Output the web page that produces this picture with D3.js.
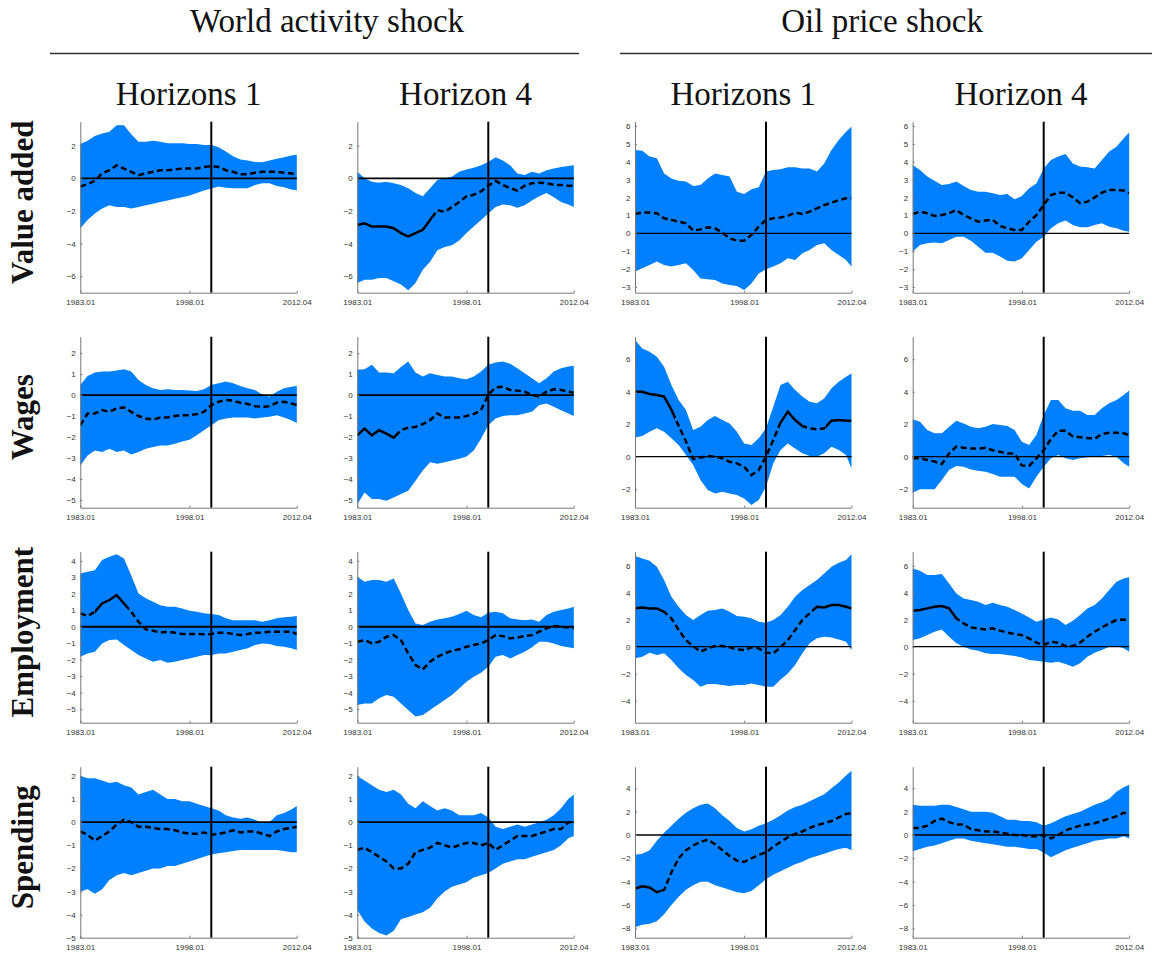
<!DOCTYPE html>
<html>
<head>
<meta charset="utf-8">
<script src="https://cdn.jsdelivr.net/npm/d3@7"></script>
<style>
  body { margin: 0; background: #fff; }
  svg { display: block; }
</style>
</head>
<body>
<svg id="chart" width="1153" height="958"></svg>
<script>
// Sample dates (Q1 of each year, plus the last quarter 2012Q4)
const dates = [1983, 1984, 1985, 1986, 1987, 1988, 1989, 1990, 1991, 1992,
               1993, 1994, 1995, 1996, 1997, 1998, 1999, 2000, 2001, 2002,
               2003, 2004, 2005, 2006, 2007, 2008, 2009, 2010, 2011, 2012, 2012.75];
const xTickValues = [1983, 1998, 2012.75];
const xTickLabels = ["1983.01", "1998.01", "2012.04"];
const breakDate = 2001;

const shockTitles = ["World activity shock", "Oil price shock"];
const horizonTitles = ["Horizons 1", "Horizon 4"];
const variableNames = ["Value added", "Wages", "Employment", "Spending"];

// y-axis limits and ticks per variable (row) and shock
const yLimits = [
  [[-7.0, 3.47], [-3.32, 6.24]],
  [[-5.37, 2.78], [-3.14, 7.39]],
  [[-5.82, 4.55], [-5.63, 7.04]],
  [[-5.0, 2.4], [-8.8, 5.85]]
];
const yTicks = [
  [[-6, -4, -2, 0, 2], [-3, -2, -1, 0, 1, 2, 3, 4, 5, 6]],
  [[-5, -4, -3, -2, -1, 0, 1, 2], [-2, 0, 2, 4, 6]],
  [[-5, -4, -3, -2, -1, 0, 1, 2, 3, 4], [-4, -2, 0, 2, 4, 6]],
  [[-5, -4, -3, -2, -1, 0, 1, 2], [-8, -6, -4, -2, 0, 2, 4]]
];

// ---- Value added ----
const va_w1_hi  = [2.1,2.3,2.6,2.75,2.85,3.25,3.25,2.7,2.25,2.25,2.3,2.25,2.15,2.15,2.15,2.1,2.1,2.05,2.05,1.9,1.65,1.35,1.15,1.1,1.0,0.98,1.1,1.2,1.3,1.4,1.45];
const va_w1_lo  = [-3.06,-2.55,-2.15,-1.85,-1.65,-1.75,-1.75,-1.85,-1.75,-1.65,-1.55,-1.45,-1.35,-1.25,-1.15,-1.05,-0.9,-0.75,-0.62,-0.5,-0.57,-0.6,-0.6,-0.6,-0.4,-0.3,-0.3,-0.47,-0.55,-0.68,-0.72];
const va_w1_med = [-0.5,-0.35,-0.15,0.3,0.5,0.8,0.6,0.4,0.2,0.3,0.4,0.5,0.5,0.55,0.6,0.6,0.6,0.7,0.75,0.7,0.5,0.4,0.25,0.25,0.35,0.4,0.4,0.4,0.35,0.3,0.25];

const va_w4_hi  = [0.4,0.0,-0.2,-0.27,-0.2,-0.3,-0.4,-0.6,-0.9,-1.1,-0.6,-0.1,0.0,0.1,0.4,0.55,0.65,0.8,1.0,1.3,1.1,0.8,0.3,0.2,0.4,0.3,0.5,0.6,0.7,0.75,0.8];
const va_w4_lo  = [-6.4,-6.2,-6.2,-6.1,-6.1,-6.3,-6.5,-6.85,-6.4,-5.6,-5.1,-4.4,-4.2,-4.1,-3.8,-3.35,-2.95,-2.55,-2.15,-1.75,-1.6,-1.65,-1.8,-1.65,-1.35,-1.1,-0.9,-1.15,-1.45,-1.6,-1.75];
const va_w4_med = [-2.85,-2.75,-2.95,-2.95,-2.95,-3.05,-3.35,-3.55,-3.35,-3.15,-2.55,-1.95,-2.05,-1.75,-1.45,-1.1,-1.0,-0.8,-0.45,-0.15,-0.4,-0.6,-0.75,-0.45,-0.3,-0.27,-0.3,-0.4,-0.4,-0.45,-0.45];

const va_o1_hi  = [4.66,4.62,4.29,4.2,3.35,3.07,2.94,2.89,2.65,2.7,3.07,3.35,3.26,3.17,2.33,2.2,2.46,2.57,3.45,3.54,3.58,3.69,3.69,3.63,3.63,3.45,3.91,4.66,5.22,5.68,5.96];
const va_o1_lo  = [-2.14,-1.96,-1.77,-1.58,-1.77,-1.86,-1.77,-1.68,-2.05,-2.52,-2.57,-2.61,-2.8,-2.89,-2.94,-3.17,-2.8,-2.24,-2.01,-1.86,-1.68,-1.4,-1.49,-1.12,-0.93,-0.65,-0.56,-0.93,-1.21,-1.49,-1.86];
const va_o1_med = [1.08,1.16,1.16,1.12,0.84,0.75,0.65,0.56,0.15,0.22,0.34,0.28,0.04,-0.28,-0.41,-0.41,-0.09,0.37,0.75,0.84,0.89,0.97,1.16,1.08,1.21,1.4,1.58,1.71,1.86,1.96,1.96];

const va_o4_hi  = [3.82,3.54,3.17,2.94,2.7,2.76,2.89,2.65,2.42,2.33,2.33,2.24,2.14,2.2,1.9,2.09,2.52,2.79,3.63,4.1,4.29,4.43,3.91,3.73,3.69,3.63,4.1,4.57,4.84,5.31,5.63];
const va_o4_lo  = [-1.02,-0.65,-0.56,-0.52,-0.56,-0.37,-0.19,-0.19,-0.41,-0.75,-1.08,-1.08,-1.3,-1.53,-1.58,-1.4,-0.93,-0.47,-0.19,0.28,0.56,0.71,0.47,0.34,0.34,0.47,0.56,0.37,0.28,0.15,0.09];
const va_o4_med = [1.08,1.21,1.12,0.97,1.02,1.12,1.3,1.02,0.84,0.65,0.71,0.75,0.41,0.28,0.19,0.19,0.65,1.02,1.58,2.14,2.27,2.27,2.01,1.68,1.77,2.01,2.27,2.42,2.42,2.39,2.24];

// ---- Wages ----
const wg_w1_hi  = [0.48,0.91,1.07,1.12,1.12,1.17,1.23,1.12,0.72,0.48,0.32,0.24,0.27,0.24,0.24,0.21,0.19,0.27,0.48,0.56,0.64,0.56,0.43,0.32,0.24,0.03,-0.08,0.16,0.32,0.4,0.43];
const wg_w1_lo  = [-3.36,-2.88,-2.64,-2.72,-2.56,-2.72,-2.64,-2.83,-2.72,-2.56,-2.48,-2.4,-2.4,-2.32,-2.21,-2.13,-1.92,-1.68,-1.44,-1.2,-1.12,-1.07,-1.07,-1.07,-1.12,-1.07,-1.04,-0.96,-1.07,-1.2,-1.33];
const wg_w1_med = [-1.44,-0.88,-0.88,-0.72,-0.8,-0.64,-0.59,-0.8,-1.0,-1.12,-1.17,-1.07,-1.07,-1.0,-0.96,-0.96,-0.91,-0.8,-0.48,-0.32,-0.24,-0.27,-0.37,-0.43,-0.53,-0.56,-0.53,-0.37,-0.32,-0.4,-0.48];

const wg_w4_hi  = [1.2,1.23,1.44,1.07,1.07,1.04,1.33,1.6,1.07,0.88,1.04,0.96,0.88,0.88,0.8,0.75,0.88,1.12,1.44,1.55,1.6,1.49,1.28,1.04,0.8,0.56,0.8,1.12,1.28,1.36,1.39];
const wg_w4_lo  = [-5.2,-4.64,-4.96,-4.96,-5.04,-4.88,-4.72,-4.56,-4.08,-3.6,-3.2,-3.28,-3.2,-3.12,-3.04,-2.93,-2.64,-2.08,-1.44,-1.12,-1.0,-0.96,-0.96,-0.88,-0.8,-0.48,-0.4,-0.56,-0.72,-0.88,-1.0];
const wg_w4_med = [-1.92,-1.6,-1.92,-1.68,-1.84,-2.03,-1.68,-1.55,-1.52,-1.39,-1.2,-0.88,-1.07,-1.07,-1.07,-1.0,-0.91,-0.72,0.0,0.37,0.4,0.24,0.21,0.16,0.0,-0.08,0.16,0.27,0.24,0.16,0.11];

const wg_o1_hi  = [7.19,6.67,6.47,6.16,5.54,4.41,3.49,2.87,1.64,1.85,2.26,2.5,2.26,2.05,1.54,0.82,0.72,1.13,1.75,3.08,4.41,4.62,4.11,3.7,3.39,3.29,3.59,4.21,4.62,4.93,5.13];
const wg_o1_lo  = [1.19,1.27,1.54,1.75,1.54,1.13,0.72,0.1,-0.51,-1.44,-2.05,-2.26,-2.16,-2.26,-2.36,-2.57,-2.98,-2.67,-1.85,-0.41,0.41,0.82,0.51,0.21,0.04,0.0,0.21,0.62,0.41,0.1,-0.72];
const wg_o1_med = [4.0,4.0,3.86,3.8,3.7,2.9,1.9,0.95,-0.15,-0.05,0.04,0.0,-0.1,-0.31,-0.41,-0.62,-1.13,-0.82,0.0,1.03,2.1,2.77,2.26,1.89,1.75,1.68,1.75,2.22,2.26,2.22,2.22];

const wg_o4_hi  = [2.3,2.16,1.64,1.44,1.44,1.85,2.22,2.05,1.85,1.75,1.85,2.01,1.95,1.89,1.64,0.92,0.72,1.33,2.57,3.49,3.49,2.98,2.83,2.83,2.57,2.57,2.98,3.29,3.49,3.8,4.07];
const wg_o4_lo  = [-2.22,-2.01,-2.01,-2.01,-1.44,-0.82,-0.57,-0.62,-0.78,-0.86,-0.92,-1.07,-1.23,-1.23,-1.23,-1.68,-1.95,-1.23,-0.62,-0.1,0.1,-0.1,-0.21,-0.1,-0.04,0.0,0.04,0.1,0.0,-0.41,-0.62];
const wg_o4_med = [-0.1,-0.1,-0.2,-0.3,-0.45,0.2,0.62,0.55,0.5,0.5,0.55,0.4,0.3,0.2,0.2,-0.55,-0.57,-0.1,0.4,1.1,1.6,1.6,1.25,1.2,1.15,1.1,1.4,1.48,1.48,1.44,1.33];

// ---- Employment ----
const em_w1_hi  = [3.23,3.33,3.43,4.04,4.24,4.4,4.14,3.1,2.02,1.72,1.52,1.31,1.21,1.21,1.11,0.97,0.91,0.81,0.77,0.71,0.51,0.4,0.4,0.4,0.4,0.3,0.4,0.51,0.57,0.61,0.65];
const em_w1_lo  = [-1.82,-1.62,-1.52,-1.01,-0.81,-0.77,-1.11,-1.41,-1.72,-1.92,-2.12,-2.02,-2.18,-2.12,-2.02,-1.92,-1.82,-1.72,-1.72,-1.62,-1.62,-1.52,-1.41,-1.31,-1.11,-1.01,-1.05,-1.17,-1.21,-1.31,-1.41];
const em_w1_med = [0.81,0.65,0.91,1.41,1.62,1.92,1.41,0.91,0.3,-0.16,-0.24,-0.36,-0.3,-0.36,-0.44,-0.44,-0.44,-0.46,-0.44,-0.36,-0.36,-0.44,-0.5,-0.44,-0.36,-0.36,-0.3,-0.3,-0.3,-0.3,-0.44];

const em_w4_hi  = [3.03,2.73,2.83,2.83,2.73,2.93,2.02,1.01,0.2,0.1,0.3,0.44,0.51,0.61,0.77,0.97,0.71,0.57,0.85,0.91,0.81,0.51,0.44,0.4,0.44,0.3,0.71,0.91,1.01,1.11,1.21];
const em_w4_lo  = [-4.75,-4.65,-4.65,-4.34,-4.14,-4.24,-4.65,-5.05,-5.45,-5.35,-5.05,-4.75,-4.44,-4.14,-3.74,-3.33,-3.03,-2.79,-2.42,-1.82,-1.72,-1.92,-1.72,-1.52,-1.25,-0.91,-0.91,-1.01,-1.17,-1.25,-1.31];
const em_w4_med = [-0.91,-0.81,-1.01,-0.91,-0.61,-0.51,-0.81,-1.62,-2.32,-2.59,-2.12,-1.82,-1.62,-1.45,-1.37,-1.21,-1.11,-1.01,-0.81,-0.51,-0.57,-0.71,-0.65,-0.57,-0.51,-0.3,-0.1,0.04,0.0,-0.04,-0.1];

const em_o1_hi  = [6.72,6.54,6.37,5.93,4.94,3.7,2.96,2.35,1.98,2.35,2.67,2.72,2.84,2.59,2.27,2.22,2.1,1.85,1.78,1.98,2.35,2.96,3.7,4.2,4.57,4.94,5.43,5.93,6.22,6.42,6.86];
const em_o1_lo  = [-0.86,-0.74,-0.44,-0.62,-0.49,-0.99,-1.6,-2.1,-2.47,-2.96,-2.77,-2.77,-2.84,-2.91,-2.84,-2.84,-2.72,-2.84,-2.96,-2.96,-2.42,-1.98,-1.36,-0.49,0.25,0.62,0.74,0.69,0.54,0.37,-0.25];
const em_o1_med = [2.84,2.91,2.84,2.84,2.59,2.1,1.23,0.49,0.05,-0.37,-0.12,0.05,0.05,-0.05,-0.2,-0.25,-0.05,-0.12,-0.44,-0.49,-0.05,0.49,1.23,1.98,2.47,2.96,2.91,3.09,3.09,2.96,2.84];

const em_o4_hi  = [5.8,5.63,5.31,5.31,5.38,4.69,3.95,3.58,3.46,3.33,3.09,3.26,3.09,2.96,2.72,2.47,2.17,1.85,2.02,2.17,2.02,1.6,1.93,2.35,2.84,3.09,3.58,4.2,4.81,5.06,5.14];
const em_o4_lo  = [0.49,0.62,0.86,1.11,1.28,0.74,0.25,0.0,-0.2,-0.3,-0.49,-0.54,-0.54,-0.62,-0.69,-0.79,-0.99,-1.04,-1.11,-1.19,-1.11,-1.28,-1.48,-1.23,-0.74,-0.44,-0.25,0.0,0.05,-0.12,-0.37];
const em_o4_med = [2.67,2.72,2.84,2.96,3.01,2.84,2.1,1.73,1.43,1.36,1.28,1.36,1.19,1.04,0.94,0.86,0.62,0.3,0.12,0.37,0.3,0.05,0.05,0.3,0.74,1.11,1.43,1.73,1.98,2.02,1.93];

// ---- Spending ----
const sp_w1_hi  = [2.0,1.9,1.9,1.8,1.7,1.75,1.6,1.5,1.2,1.3,1.4,1.2,1.0,1.0,0.9,0.9,0.8,0.7,0.6,0.5,0.3,0.2,0.15,0.2,0.1,-0.05,0.0,0.3,0.4,0.55,0.7];
const sp_w1_lo  = [-3.0,-2.9,-3.1,-2.9,-2.5,-2.3,-2.2,-2.3,-2.2,-2.1,-2.0,-2.0,-1.9,-1.9,-1.8,-1.7,-1.6,-1.5,-1.4,-1.35,-1.3,-1.25,-1.2,-1.2,-1.2,-1.2,-1.2,-1.2,-1.25,-1.3,-1.3];
const sp_w1_med = [-0.4,-0.55,-0.8,-0.6,-0.4,-0.1,0.1,0.0,-0.2,-0.2,-0.25,-0.3,-0.3,-0.35,-0.45,-0.5,-0.5,-0.45,-0.55,-0.5,-0.45,-0.35,-0.45,-0.4,-0.4,-0.5,-0.6,-0.4,-0.3,-0.25,-0.2];

const sp_w4_hi  = [2.0,1.8,1.6,1.4,1.3,1.4,1.2,0.8,0.6,0.9,0.7,0.5,0.6,0.5,0.3,0.3,0.3,0.4,0.2,-0.2,-0.3,-0.2,-0.1,-0.2,-0.1,0.0,0.1,0.3,0.6,1.0,1.2];
const sp_w4_lo  = [-3.8,-4.3,-4.6,-4.8,-4.9,-4.7,-4.2,-4.1,-4.0,-3.9,-3.7,-3.3,-3.0,-2.8,-2.7,-2.6,-2.4,-2.3,-2.2,-2.0,-1.8,-1.7,-1.6,-1.6,-1.5,-1.4,-1.3,-1.2,-1.0,-0.7,-0.6];
const sp_w4_med = [-1.2,-1.1,-1.3,-1.5,-1.7,-2.0,-2.0,-1.8,-1.3,-1.2,-1.1,-0.9,-1.0,-1.1,-1.0,-0.9,-0.9,-1.0,-0.9,-1.2,-1.0,-0.8,-0.6,-0.6,-0.6,-0.5,-0.4,-0.3,-0.3,0.0,0.0];

const sp_o1_hi  = [-1.7,-1.6,-1.3,-0.5,0.2,0.8,1.4,1.9,2.3,2.6,2.7,2.3,1.7,1.2,0.6,0.3,0.5,0.8,1.0,1.3,1.7,2.1,2.4,2.6,2.9,3.2,3.5,4.0,4.5,5.1,5.5];
const sp_o1_lo  = [-7.9,-7.7,-7.6,-7.4,-6.8,-6.0,-5.3,-4.7,-4.3,-4.0,-4.0,-4.3,-4.5,-4.7,-4.9,-5.0,-4.8,-4.3,-3.8,-3.4,-3.1,-2.8,-2.5,-2.3,-2.0,-1.8,-1.6,-1.4,-1.2,-1.1,-1.3];
const sp_o1_med = [-4.6,-4.4,-4.5,-4.9,-4.7,-3.2,-2.0,-1.3,-0.9,-0.6,-0.4,-0.8,-1.3,-1.8,-2.2,-2.3,-2.0,-1.7,-1.5,-1.0,-0.6,-0.2,0.1,0.3,0.6,0.85,1.0,1.2,1.5,1.8,1.85];

const sp_o4_hi  = [2.6,2.5,2.5,2.5,2.6,2.6,2.4,2.2,2.0,2.0,2.0,1.9,1.6,1.3,1.3,1.2,1.2,1.1,0.8,1.0,1.3,1.6,1.8,2.0,2.3,2.6,2.8,3.1,3.7,4.1,4.3];
const sp_o4_lo  = [-1.4,-1.2,-1.0,-0.9,-0.7,-0.5,-0.3,-0.3,-0.5,-0.6,-0.7,-0.8,-0.9,-1.0,-1.0,-1.1,-1.2,-1.2,-1.5,-1.9,-1.6,-1.3,-1.1,-0.9,-0.7,-0.5,-0.4,-0.3,-0.3,-0.1,-0.3];
const sp_o4_med = [0.6,0.6,0.8,1.2,1.4,1.1,0.9,0.9,0.5,0.4,0.3,0.3,0.2,0.1,0.0,0.0,-0.1,-0.1,0.0,-0.3,0.0,0.4,0.6,0.8,0.9,1.0,1.2,1.4,1.6,1.9,1.8];

// Date ranges where the median response is drawn solid (significant)
const va_w4_solid = [[1983, 1993.3]];
const wg_w4_solid = [[1983.5, 1988.6]];
const wg_o1_solid = [[1983, 1988.5], [2002.8, 2006.0], [2009.2, 2012.75]];
const em_w1_solid = [[1985, 1989.6]];
const em_o1_solid = [[1983, 1987.3], [2007.7, 2012.75]];
const em_o4_solid = [[1983, 1989.3]];
const sp_o1_solid = [[1983, 1986.6]];

// Panel table: rows = variables, columns = world H1, world H4, oil H1, oil H4
const panelRows = [
  [[va_w1_lo, va_w1_med, va_w1_hi, []], [va_w4_lo, va_w4_med, va_w4_hi, va_w4_solid],
   [va_o1_lo, va_o1_med, va_o1_hi, []], [va_o4_lo, va_o4_med, va_o4_hi, []]],
  [[wg_w1_lo, wg_w1_med, wg_w1_hi, []], [wg_w4_lo, wg_w4_med, wg_w4_hi, wg_w4_solid],
   [wg_o1_lo, wg_o1_med, wg_o1_hi, wg_o1_solid], [wg_o4_lo, wg_o4_med, wg_o4_hi, []]],
  [[em_w1_lo, em_w1_med, em_w1_hi, em_w1_solid], [em_w4_lo, em_w4_med, em_w4_hi, []],
   [em_o1_lo, em_o1_med, em_o1_hi, em_o1_solid], [em_o4_lo, em_o4_med, em_o4_hi, em_o4_solid]],
  [[sp_w1_lo, sp_w1_med, sp_w1_hi, []], [sp_w4_lo, sp_w4_med, sp_w4_hi, []],
   [sp_o1_lo, sp_o1_med, sp_o1_hi, sp_o1_solid], [sp_o4_lo, sp_o4_med, sp_o4_hi, []]]
];

// ---- layout ----
const colLeft = [80.3, 357.3, 635, 912.7];
const panelW = 216.5;
const rowTop0 = 121.7, rowStep = 215, panelH = 171;
const BAND = "#0080ff";
const SERIF = "'Liberation Serif', 'Times New Roman', serif";
const SANS = "'Liberation Sans', Arial, Helvetica, sans-serif";

const svg = d3.select("#chart");
const defs = svg.append("defs");

// Shock titles and rules
shockTitles.forEach((t, s) => {
  const x0 = colLeft[2 * s], x1 = colLeft[2 * s + 1] + panelW;
  svg.append("text")
    .attr("x", (x0 + x1) / 2).attr("y", 32)
    .attr("text-anchor", "middle")
    .style("font-family", SERIF).style("font-size", "33px").attr("fill", "#111")
    .text(t);
  svg.append("line")
    .attr("x1", s === 0 ? 50 : 620).attr("x2", s === 0 ? 579 : 1152)
    .attr("y1", 53.5).attr("y2", 53.5)
    .attr("stroke", "#333").attr("stroke-width", 1.3);
});

// Horizon titles
colLeft.forEach((x0, c) => {
  svg.append("text")
    .attr("x", x0 + panelW / 2).attr("y", 105)
    .attr("text-anchor", "middle")
    .style("font-family", SERIF).style("font-size", "33px").attr("fill", "#111")
    .text(horizonTitles[c % 2]);
});

// Variable labels
variableNames.forEach((name, r) => {
  const cy = rowTop0 + r * rowStep + panelH / 2 - 5;
  svg.append("text")
    .attr("transform", `translate(33,${cy}) rotate(-90)`)
    .attr("text-anchor", "middle")
    .style("font-family", SERIF).style("font-size", "31px").style("font-weight", "bold")
    .attr("fill", "#111")
    .text(name);
});

// Panels
panelRows.forEach((row, r) => {
  row.forEach((cell, c) => {
    const [lo, med, hi, solid] = cell;
    const s = c < 2 ? 0 : 1;
    const x0 = colLeft[c], y0 = rowTop0 + r * rowStep;
    const x = d3.scaleLinear().domain([dates[0], dates[dates.length - 1]]).range([x0, x0 + panelW]);
    const y = d3.scaleLinear().domain(yLimits[r][s]).range([y0 + panelH, y0]);
    const pts = dates.map((t, i) => ({ t, lo: lo[i], med: med[i], hi: hi[i] }));
    const g = svg.append("g");

    // credible band
    g.append("path").datum(pts)
      .attr("fill", BAND)
      .attr("d", d3.area().x(d => x(d.t)).y0(d => y(d.lo)).y1(d => y(d.hi)));

    // zero line and break date
    g.append("line")
      .attr("x1", x0).attr("x2", x0 + panelW)
      .attr("y1", y(0)).attr("y2", y(0))
      .attr("stroke", "#000").attr("stroke-width", s === 0 ? 1.8 : 1.3);
    g.append("line")
      .attr("x1", x(breakDate)).attr("x2", x(breakDate))
      .attr("y1", y0).attr("y2", y0 + panelH)
      .attr("stroke", "#000").attr("stroke-width", 2);

    // clip regions: solid intervals and their complement
    const dashed = [];
    let start = dates[0];
    solid.forEach(([a, b]) => { if (a > start) dashed.push([start, a]); start = b; });
    if (start < dates[dates.length - 1]) dashed.push([start, dates[dates.length - 1]]);
    const makeClip = (id, ranges) => {
      const cp = defs.append("clipPath").attr("id", id);
      ranges.forEach(([a, b]) => {
        cp.append("rect")
          .attr("x", x(a)).attr("width", x(b) - x(a))
          .attr("y", y0 - 10).attr("height", panelH + 20);
      });
    };
    const id = `p${r}${c}`;
    makeClip(id + "d", dashed);
    makeClip(id + "s", solid);

    const line = d3.line().x(d => x(d.t)).y(d => y(d.med));
    g.append("path").datum(pts)
      .attr("clip-path", `url(#${id}d)`)
      .attr("fill", "none").attr("stroke", "#000")
      .attr("stroke-width", 2.5).attr("stroke-dasharray", "6,3.5")
      .attr("d", line);
    if (solid.length) {
      g.append("path").datum(pts)
        .attr("clip-path", `url(#${id}s)`)
        .attr("fill", "none").attr("stroke", "#000")
        .attr("stroke-width", 2.5)
        .attr("d", line);
    }

    // axes
    const ya = g.append("g").attr("transform", `translate(${x0},0)`)
      .call(d3.axisLeft(y).tickValues(yTicks[r][s]).tickSize(-2).tickSizeOuter(0).tickPadding(4.5));
    const xa = g.append("g").attr("transform", `translate(0,${y0 + panelH})`)
      .call(d3.axisBottom(x).tickValues(xTickValues)
        .tickFormat((d, i) => xTickLabels[i]).tickSize(-2).tickSizeOuter(0).tickPadding(7));
    [ya, xa].forEach(a => {
      a.select(".domain").attr("stroke", "#777").attr("stroke-width", 1);
      a.selectAll(".tick line").attr("stroke", "#777");
      a.selectAll("text").style("font-family", SANS).style("font-size", "8px").attr("fill", "#333");
    });
  });
});
</script>
</body>
</html>
